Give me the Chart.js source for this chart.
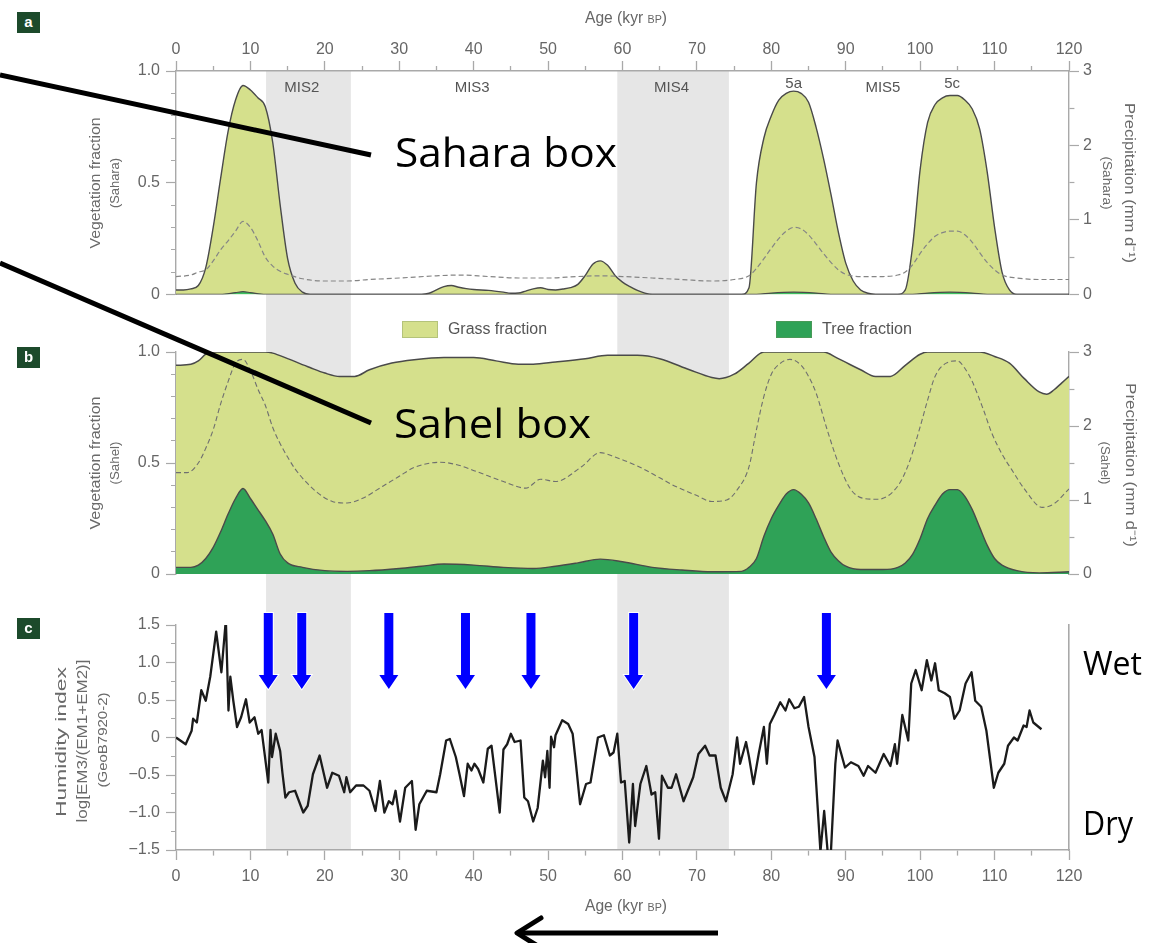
<!DOCTYPE html>
<html>
<head>
<meta charset="utf-8">
<title>Vegetation, precipitation and humidity index, 0–120 kyr BP</title>
<script src="https://cdn.jsdelivr.net/npm/chart.js@4/dist/chart.umd.min.js"></script>
<style>
  html, body { margin: 0; padding: 0; background: #fff; }
  #page { position: relative; width: 1162px; height: 943px; overflow: hidden; background: #fff; }
  #page canvas { position: absolute; left: 0; }
  .badge { position: absolute; left: 17px; width: 23px; height: 21px; background: #1c4a2b;
           color: #fff; font: bold 15px "Liberation Sans", Arial, sans-serif; text-align: center; line-height: 20px; }
  #notes { position: absolute; left: 0; top: 0; pointer-events: none; }
</style>
</head>
<body>
<div id="page">
  <canvas id="panelA" width="1162" height="310" style="top:0px"></canvas>
  <canvas id="panelB" width="1162" height="290" style="top:310px"></canvas>
  <canvas id="panelC" width="1162" height="343" style="top:600px"></canvas>
  <div class="badge" style="top:12px">a</div>
  <div class="badge" style="top:347px">b</div>
  <div class="badge" style="top:618px">c</div>
  <svg id="notes" width="1162" height="943" xmlns="http://www.w3.org/2000/svg">
    <line x1="0" y1="75" x2="371" y2="155" stroke="#000" stroke-width="5"/>
    <line x1="0" y1="263" x2="371" y2="423" stroke="#000" stroke-width="5"/>
    <text x="395" y="167" font-family="'Open Sans', sans-serif" font-size="41" fill="#000" textLength="222" lengthAdjust="spacingAndGlyphs">Sahara box</text>
    <text x="394" y="438" font-family="'Open Sans', sans-serif" font-size="41" fill="#000" textLength="197" lengthAdjust="spacingAndGlyphs">Sahel box</text>
    <text x="1083" y="675" font-family="'Open Sans', sans-serif" font-size="32" fill="#000" textLength="59" lengthAdjust="spacingAndGlyphs">Wet</text>
    <text x="1083" y="835" font-family="'Open Sans', sans-serif" font-size="32" fill="#000" textLength="50" lengthAdjust="spacingAndGlyphs">Dry</text>
    <line x1="520" y1="933" x2="718" y2="933" stroke="#000" stroke-width="5"/>
    <polyline points="541,918 517,933 541,948" fill="none" stroke="#000" stroke-width="5" stroke-linejoin="round" stroke-linecap="round"/>
  </svg>
</div>

<script>
// ---------------- data ----------------
// Marine isotope stages shaded in grey (kyr BP)
const misStart = [12.1, 59.3];
const misEnd   = [23.5, 74.3];
const misLabels   = ['MIS2', 'MIS3', 'MIS4', '5a', 'MIS5', '5c'];
const misLabelAge = [16.9, 39.8, 66.6, 83.0, 95.0, 104.3];

// Age axis labels
const ageTickStep = 10;

// (a) Sahara: grass fraction
const saharaGrassAge = [0,1,2,3,4,5,6,7,8,9,10,11,12,13,14,15,16,17,18,
  33,34,35,36,37,38,39,40,
  42,44,45,46,47,48,49,50,51,52,53,54,55,56,57,58,59,60,61,62,63,64,
  76,77,78,79,80,81,82,83,84,85,86,87,88,89,90,91,92,93,94,
  97,98,99,100,101,102,103,104,105,106,107,108,109,110,111,112,113,
  120];
const saharaGrass = [0.02,0.02,0.025,0.04,0.12,0.3,0.52,0.73,0.87,0.935,0.915,0.88,0.84,0.68,0.4,0.16,0.05,0.01,0,
  0,0.005,0.02,0.035,0.04,0.032,0.026,0.022,
  0.018,0.01,0.005,0.006,0.015,0.025,0.03,0.022,0.02,0.024,0.03,0.045,0.085,0.135,0.15,0.13,0.085,0.055,0.035,0.018,0.006,0,
  0,0.03,0.5,0.7,0.8,0.87,0.9,0.91,0.9,0.86,0.75,0.61,0.45,0.28,0.14,0.06,0.02,0.005,0,
  0,0.02,0.22,0.56,0.77,0.85,0.88,0.89,0.89,0.87,0.83,0.74,0.55,0.3,0.1,0.02,0,
  0];

// (a) Sahara: tree fraction
const saharaTreeAge = [0,6,8,9,10,12,78,80,83,86,88,99,101,104,107,109,120];
const saharaTree    = [0,0,0.008,0.012,0.008,0,0,0.006,0.01,0.006,0,0,0.006,0.01,0.006,0,0];

// (a) Sahara: precipitation (mm/day)
const saharaPrecipAge = [0,2,3,4,5,6,7,8,9,10,11,12,13,14,15,17,20,23,26,30,35,38,42,46,50,54,57,60,64,68,
  72,75,77,78,79,80,81,82,83,84,85,86,87,88,89,90,92,95,97,98,99,100,101,102,103,104,105,106,107,108,
  109,110,111,113,116,120];
const saharaPrecip = [0.24,0.26,0.3,0.33,0.45,0.6,0.72,0.85,0.98,0.9,0.72,0.5,0.38,0.31,0.27,0.21,0.18,0.18,0.2,0.22,
  0.25,0.26,0.24,0.22,0.22,0.24,0.25,0.24,0.22,0.2,
  0.18,0.2,0.25,0.35,0.48,0.62,0.75,0.85,0.9,0.88,0.8,0.68,0.55,0.43,0.33,0.27,0.24,0.24,0.26,0.3,
  0.4,0.55,0.68,0.78,0.83,0.85,0.85,0.8,0.7,0.56,
  0.43,0.33,0.26,0.22,0.2,0.2];

// (b) Sahel: total vegetation (grass + tree)
const sahelTotalAge = [0,2,3,4,5,12,13,15,18,20,22,24,26,29,32,36,40,43,46,48,51,55,58,62,65,69,72,73,75,77,
  79,87,89,92,94,96,98,100,101,108,110,112,114,116,117,118,119,120];
const sahelTotal = [0.94,0.945,0.96,0.99,1.0,1.0,0.995,0.97,0.93,0.905,0.89,0.89,0.92,0.95,0.965,0.975,0.975,0.96,0.945,0.945,
  0.955,0.97,0.985,0.985,0.97,0.92,0.885,0.88,0.9,0.95,
  1.0,1.0,0.97,0.92,0.89,0.89,0.94,0.99,1.0,1.0,0.98,0.95,0.88,0.82,0.81,0.83,0.86,0.89];

// (b) Sahel: tree fraction
const sahelTreeAge = [0,2,3,4,5,6,7,8,9,10,11,12,13,14,15,17,20,23,26,30,33,36,40,44,48,51,54,57,60,64,
  68,72,76,77,78,79,80,81,82,83,84,85,86,87,88,89,90,92,95,97,98,99,100,101,102,103,104,105,106,107,
  108,109,110,111,113,116,120];
const sahelTree = [0.03,0.03,0.04,0.07,0.12,0.19,0.27,0.34,0.385,0.34,0.29,0.24,0.18,0.09,0.05,0.03,0.015,0.012,0.015,0.025,
  0.035,0.045,0.04,0.03,0.025,0.035,0.05,0.067,0.055,0.03,
  0.018,0.01,0.012,0.03,0.07,0.17,0.25,0.31,0.36,0.38,0.36,0.32,0.25,0.17,0.1,0.06,0.035,0.02,0.02,0.03,
  0.05,0.09,0.16,0.25,0.31,0.36,0.38,0.38,0.35,0.29,
  0.21,0.13,0.07,0.04,0.015,0.005,0.01];

// (b) Sahel: precipitation (mm/day)
const sahelPrecipAge = [0,1.5,3,4,5,6,7,8,9,10,11,12,13,14,15,16,17.5,19,21,23,25,28,30,32,35.5,38,40.5,44,47,49,
  51,54.5,57,59,62,65,67,70,72,74,75.5,77,78,79,80,81,82.5,84,85,86,
  87.5,89,90.7,92.5,94.3,97,98.5,100,101,102,103.5,105,106,107,108.5,109.6,111,112.3,114,116.4,118,120];
const sahelPrecip = [1.37,1.37,1.5,1.7,1.95,2.3,2.6,2.85,2.9,2.75,2.5,2.28,1.98,1.76,1.58,1.42,1.24,1.1,0.98,0.96,
  1.02,1.2,1.32,1.44,1.51,1.47,1.38,1.25,1.16,1.28,
  1.25,1.45,1.64,1.58,1.46,1.3,1.19,1.06,0.98,1.0,1.15,1.45,1.95,2.4,2.7,2.83,2.9,2.82,2.67,2.45,
  1.95,1.5,1.14,1.02,1.01,1.19,1.5,1.99,2.35,2.67,2.85,2.88,2.78,2.6,2.22,1.91,1.62,1.41,1.15,0.9,0.95,1.15];

// (c) Humidity index log[EM3/(EM1+EM2)], core GeoB7920-2
const humidityAge = [0,1.3,2.1,2.3,2.8,3.4,4.0,4.6,5.4,6.1,6.7,7.05,7.3,7.7,8.2,8.75,9.4,9.9,10.55,11.05,
  11.5,12.4,12.7,12.9,13.4,14.0,14.3,14.7,15.2,16.0,17.1,17.7,18.4,19.3,20.3,21.0,21.9,22.6,22.9,23.4,
  24.2,25.2,26.0,26.8,27.4,28.0,28.6,29.1,29.5,30.1,30.8,31.7,32.2,32.7,33.7,35.0,35.5,36.3,36.8,37.6,
  38.1,38.7,39.2,39.7,40.1,40.6,41.3,41.9,42.4,43.5,44.0,44.5,45.0,45.5,46.3,46.8,47.3,48.0,48.6,49.3,
  49.6,49.9,50.2,50.4,50.8,51.0,51.9,52.7,53.3,53.7,54.3,55.1,55.7,56.7,57.5,58.3,58.8,59.3,59.8,60.3,
  60.9,61.4,61.7,62.4,63.2,63.9,64.4,64.9,65.3,66.1,66.6,67.2,68.2,69.5,70.2,71.1,71.7,72.5,73.2,73.9,
  74.8,75.4,75.8,76.6,77.0,77.6,78.3,79.0,79.4,79.8,80.4,81.2,81.9,82.4,83.1,83.7,84.4,85.0,85.8,86.6,
  87.1,87.6,88.0,88.6,88.9,89.9,90.7,91.7,92.4,93.0,94.0,95.1,96.0,96.6,96.9,97.6,98.4,98.8,99.4,100.2,
  100.9,101.5,102.0,102.5,103.3,104.0,104.6,105.3,106.1,106.9,107.4,108.2,108.9,109.9,110.5,111.3,111.8,112.6,113.1,113.9,
  114.3,114.7,115.2,116.3];
const humidity = [0.0,-0.09,0.09,0.25,0.2,0.63,0.49,0.81,1.41,0.87,1.57,0.36,0.81,0.49,0.14,0.27,0.51,0.2,0.27,0.05,
  0.1,-0.6,0.1,-0.26,0.05,-0.18,-0.47,-0.8,-0.73,-0.71,-1.0,-0.91,-0.49,-0.24,-0.67,-0.47,-0.51,-0.73,-0.53,-0.73,
  -0.64,-0.64,-0.71,-0.98,-0.58,-1.0,-0.85,-0.89,-0.71,-1.12,-0.67,-0.58,-1.23,-0.89,-0.71,-0.73,-0.49,-0.04,-0.02,-0.26,
  -0.49,-0.78,-0.35,-0.44,-0.35,-0.42,-0.6,-0.15,-0.11,-1.0,-0.16,-0.09,0.05,-0.06,-0.04,-0.8,-0.85,-1.12,-0.94,-0.31,
  -0.53,-0.18,-0.67,0.01,-0.13,0.03,0.23,0.18,0.05,-0.31,-0.89,-0.62,-0.6,0.0,0.03,-0.24,-0.2,0.05,-0.6,-0.58,
  -1.4,-0.62,-1.18,-0.62,-0.38,-0.76,-0.73,-1.35,-0.51,-0.67,-0.67,-0.49,-0.85,-0.53,-0.22,-0.11,-0.24,-0.24,-0.67,-0.85,
  -0.49,0.0,-0.35,-0.06,-0.26,-0.62,-0.22,0.14,-0.35,0.18,0.3,0.47,0.36,0.51,0.39,0.41,0.54,0.14,-0.26,-1.52,
  -0.98,-1.56,-1.54,-0.35,-0.04,-0.4,-0.33,-0.38,-0.51,-0.38,-0.47,-0.22,-0.38,-0.09,-0.35,0.3,-0.04,0.72,0.9,0.63,
  1.03,0.76,0.99,0.63,0.59,0.54,0.25,0.36,0.72,0.87,0.49,0.41,0.09,-0.67,-0.47,-0.35,-0.11,0.0,-0.04,0.16,
  0.14,0.36,0.2,0.11];

// Dry events marked with arrows in panel c (kyr BP)
const eventAges = [12.4, 16.9, 28.6, 38.9, 47.7, 61.5, 87.4];

// ---------------- styling ----------------
const FONT = '"Liberation Sans", Arial, Helvetica, sans-serif';
const TEXT = '#666';
const AXIS = '#a9a9a9';
const BAND = '#e6e6e6';
const GRASS = '#d5e08c';
const TREE = '#2fa257';
const OUTLINE = '#4a4a4a';
const DASH = '#858585';

Chart.defaults.font.family = FONT;
Chart.defaults.color = TEXT;
Chart.defaults.animation = false;

const pts = (ages, vals) => ages.map((a, i) => ({ x: a, y: vals[i] }));
const near = (v, step) => Math.abs(v / step - Math.round(v / step)) < 1e-6;

// minor ticks are drawn half length: the dash keeps only the part next to the axis line
function tickDash(outerFirst, majorStep) {
  return ctx => {
    if (!ctx.tick || near(ctx.tick.value, majorStep)) return [];
    return outerFirst ? [0, 5, 6] : [5, 20];
  };
}

function xAxis(position, height, display, padding) {
  return {
    type: 'linear', position, min: 0, max: 120, display,
    afterFit: s => { s.height = height; },
    border: { color: AXIS, width: 1.6 },
    grid: { drawOnChartArea: false, tickLength: 10, tickColor: AXIS, tickWidth: 1.3,
            tickBorderDash: tickDash(position === 'top', ageTickStep) },
    ticks: { stepSize: 5, autoSkip: false, maxTicksLimit: 1000, maxRotation: 0, padding,
             font: { size: 16 }, color: TEXT,
             callback: v => near(v, ageTickStep) ? String(v) : '' }
  };
}

function yAxis(position, min, max, step, majorStep, fmt) {
  return {
    type: 'linear', position, min, max,
    afterFit: s => { s.width = position === 'left' ? 176 : 93; },
    border: { color: AXIS, width: 1.4 },
    grid: { drawOnChartArea: false, tickLength: 10, tickColor: AXIS, tickWidth: 1.2,
            tickBorderDash: tickDash(position === 'left', majorStep) },
    ticks: { stepSize: step, autoSkip: false, maxTicksLimit: 1000, padding: position === 'left' ? 6 : 4,
             font: { size: 16 }, color: TEXT,
             callback: v => near(v, majorStep) ? fmt(v) : '' }
  };
}
const fmtFraction = v => (near(v, 1) && Math.round(v) === 0) ? '0' : v.toFixed(1);
const fmtPrecip = v => String(Math.round(v));
const fmtHumidity = v => near(v, 1) && Math.round(v) === 0 ? '0' : (v < 0 ? '\u2212' : '') + Math.abs(v).toFixed(1);

// ---------------- drawing helpers ----------------
// text drawn to a given length along its baseline; rot: 0 horizontal, -1 reads upward, 1 reads downward
function fitText(ctx, text, x, y, size, len, rot, color) {
  ctx.save();
  ctx.font = size + 'px ' + FONT;
  const w = ctx.measureText(text).width;
  ctx.translate(x, y);
  ctx.rotate(rot * Math.PI / 2);
  ctx.scale(len / w, 1);
  ctx.textAlign = 'center';
  ctx.textBaseline = 'middle';
  ctx.fillStyle = color || TEXT;
  ctx.fillText(text, 0, 0);
  ctx.restore();
}

// "Age (kyr BP)" with small capitals for BP
function ageTitle(ctx, cx, cy, len) {
  const parts = [['Age (kyr ', 16], ['BP', 11], [')', 16]];
  ctx.save();
  const widths = parts.map(([t, s]) => { ctx.font = s + 'px ' + FONT; return ctx.measureText(t).width; });
  const total = widths.reduce((a, b) => a + b, 0);
  const k = len / total;
  ctx.translate(cx - len / 2, cy);
  ctx.scale(k, 1);
  ctx.fillStyle = TEXT;
  ctx.textBaseline = 'alphabetic';
  let x = 0;
  parts.forEach(([t, s], i) => { ctx.font = s + 'px ' + FONT; ctx.fillText(t, x, 6); x += widths[i]; });
  ctx.restore();
}

function bandPlugin(fromArea, toArea) {
  return {
    id: 'misBand',
    beforeDraw(chart) {
      const { ctx, chartArea, scales } = chart;
      const x = scales.x;
      const y0 = fromArea ? chartArea.top : 0;
      const y1 = toArea ? chartArea.bottom : chart.height;
      ctx.save();
      ctx.fillStyle = BAND;
      misStart.forEach((s, i) => {
        const a = x.getPixelForValue(s), b = x.getPixelForValue(misEnd[i]);
        ctx.fillRect(a, y0, b - a, y1 - y0);
      });
      ctx.restore();
    }
  };
}

function titlesPlugin(offsetY, items) {
  return {
    id: 'sideTitles',
    afterDraw(chart) {
      const ctx = chart.ctx;
      items.forEach(it => fitText(ctx, it.text, it.x, it.y - offsetY, it.size, it.len, it.rot, '#6a6a6a'));
    }
  };
}

function line(data, color, width, extra) {
  return Object.assign({ data, borderColor: color, borderWidth: width, pointRadius: 0,
                         cubicInterpolationMode: 'monotone' }, extra);
}

const baseOptions = (padding, scales) => ({
  responsive: false, animation: false, events: [],
  layout: { padding },
  plugins: { legend: { display: false }, tooltip: { enabled: false } },
  scales
});

// ---------------- panel a: Sahara ----------------
new Chart(document.getElementById('panelA'), {
  type: 'line',
  data: { datasets: [
    line(pts(saharaGrassAge, saharaGrass), OUTLINE, 1.4, { fill: 'origin', backgroundColor: GRASS, order: 3, yAxisID: 'y' }),
    line(pts(saharaTreeAge, saharaTree), OUTLINE, 1.2, { fill: 'origin', backgroundColor: '#3cc060', order: 2, yAxisID: 'y' }),
    line(pts(saharaPrecipAge, saharaPrecip), DASH, 1.2, { fill: false, borderDash: [5, 3], order: 1, yAxisID: 'y2' })
  ]},
  options: baseOptions({ top: 0, bottom: 15, left: 0, right: 0 }, {
    x: xAxis('top', 71, true, 2),
    y: yAxis('left', 0, 1, 0.1, 0.5, fmtFraction),
    y2: yAxis('right', 0, 3, 0.5, 1, fmtPrecip)
  }),
  plugins: [
    bandPlugin(true, false),
    titlesPlugin(0, [
      { text: 'Vegetation fraction', x: 96, y: 183, size: 15, len: 131, rot: -1 },
      { text: '(Sahara)', x: 116, y: 183, size: 12, len: 50, rot: -1 },
      { text: 'Precipitation (mm d\u207B\u00B9)', x: 1129, y: 183, size: 15, len: 160, rot: 1 },
      { text: '(Sahara)', x: 1106, y: 183, size: 12, len: 53, rot: 1 }
    ]),
    {
      id: 'stageLabels',
      afterDraw(chart) {
        const { ctx, scales: { x } } = chart;
        ageTitle(ctx, 626, 17, 82);
        misLabels.forEach((t, i) => {
          const px = x.getPixelForValue(misLabelAge[i]);
          const py = t.startsWith('MIS') ? 88 : 84;
          ctx.save();
          ctx.font = '15px ' + FONT;
          const w = ctx.measureText(t).width;
          fitText(ctx, t, px, py, 15, w, 0, '#555');
          ctx.restore();
        });
      }
    }
  ]
});

// ---------------- panel b: Sahel ----------------
new Chart(document.getElementById('panelB'), {
  type: 'line',
  data: { datasets: [
    line(pts(sahelTotalAge, sahelTotal), OUTLINE, 1.5, { fill: 'origin', backgroundColor: GRASS, order: 3, yAxisID: 'y' }),
    line(pts(sahelTreeAge, sahelTree), OUTLINE, 1.4, { fill: 'origin', backgroundColor: TREE, order: 2, yAxisID: 'y' }),
    line(pts(sahelPrecipAge, sahelPrecip), '#6f6f6f', 1.1, { fill: false, borderDash: [5, 3], order: 1, yAxisID: 'y2' })
  ]},
  options: baseOptions({ top: 42, bottom: 26, left: 0, right: 0 }, {
    x: xAxis('bottom', 0, false, 0),
    y: yAxis('left', 0, 1, 0.1, 0.5, fmtFraction),
    y2: yAxis('right', 0, 3, 0.5, 1, fmtPrecip)
  }),
  plugins: [
    bandPlugin(false, false),
    titlesPlugin(310, [
      { text: 'Vegetation fraction', x: 96, y: 463, size: 15, len: 133, rot: -1 },
      { text: '(Sahel)', x: 116, y: 463, size: 12, len: 43, rot: -1 },
      { text: 'Precipitation (mm d\u207B\u00B9)', x: 1130, y: 465, size: 15, len: 164, rot: 1 },
      { text: '(Sahel)', x: 1104, y: 463, size: 12, len: 43, rot: 1 }
    ]),
    {
      id: 'vegLegend',
      afterDraw(chart) {
        const ctx = chart.ctx;
        const entries = [['Grass fraction', GRASS, 402, 99], ['Tree fraction', TREE, 776, 90]];
        entries.forEach(([label, color, left, len]) => {
          ctx.save();
          ctx.fillStyle = color;
          ctx.fillRect(left, 11, 36, 17);
          ctx.strokeStyle = 'rgba(120,140,90,0.35)';
          ctx.lineWidth = 1;
          ctx.strokeRect(left + 0.5, 11.5, 35, 16);
          ctx.restore();
          fitText(ctx, label, left + 46 + len / 2, 20, 16, len, 0, '#555');
        });
      }
    }
  ]
});

// ---------------- panel c: humidity index ----------------
new Chart(document.getElementById('panelC'), {
  type: 'line',
  data: { datasets: [
    { data: pts(humidityAge, humidity), borderColor: '#1b1b1b', borderWidth: 2.3, pointRadius: 0,
      tension: 0, fill: false, borderJoinStyle: 'round', yAxisID: 'y' }
  ]},
  options: baseOptions({ top: 25, bottom: 0, left: 0, right: 0 }, {
    x: xAxis('bottom', 93, true, 7),
    y: yAxis('left', -1.5, 1.5, 0.25, 0.5, fmtHumidity),
    y2: {
      type: 'linear', position: 'right', min: -1.5, max: 1.5,
      afterFit: s => { s.width = 93; },
      border: { color: AXIS, width: 1.6 },
      grid: { drawOnChartArea: false, drawTicks: false },
      ticks: { display: false }
    }
  }),
  plugins: [
    bandPlugin(false, true),
    titlesPlugin(600, [
      { text: 'Humidity index', x: 62, y: 742, size: 15, len: 150, rot: -1 },
      { text: 'log[EM3/(EM1+EM2)]', x: 83, y: 741, size: 15, len: 163, rot: -1 },
      { text: '(GeoB7920-2)', x: 104, y: 740, size: 12, len: 95, rot: -1 }
    ]),
    {
      id: 'eventArrows',
      afterDraw(chart) {
        const { ctx, scales: { x } } = chart;
        ageTitle(ctx, 626, 305, 82);
        const top = 13, base = 75, tip = 89, half = 4.5, head = 9.5;
        ctx.save();
        eventAges.forEach(a => {
          const cx = x.getPixelForValue(a);
          ctx.beginPath();
          ctx.moveTo(cx - half, top);
          ctx.lineTo(cx + half, top);
          ctx.lineTo(cx + half, base);
          ctx.lineTo(cx + head, base);
          ctx.lineTo(cx, tip);
          ctx.lineTo(cx - head, base);
          ctx.lineTo(cx - half, base);
          ctx.closePath();
          ctx.strokeStyle = '#fff';
          ctx.lineWidth = 2;
          ctx.stroke();
          ctx.fillStyle = '#0000ff';
          ctx.fill();
        });
        ctx.restore();
      }
    }
  ]
});
</script>
</body>
</html>
